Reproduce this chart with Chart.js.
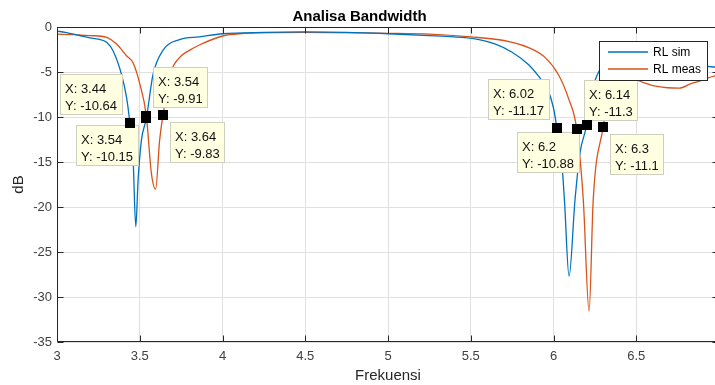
<!DOCTYPE html>
<html>
<head>
<meta charset="utf-8">
<script src="https://cdn.jsdelivr.net/npm/chart.js@4.4.0/dist/chart.umd.min.js"></script>
<style>
html, body { margin: 0; padding: 0; background: #fff; overflow: hidden; }
#wrap { width: 715px; height: 385px; overflow: hidden; }
</style>
</head>
<body>
<div id="wrap"><canvas id="myChart" width="722" height="385"></canvas></div>
<script>
// data
const simFreq = [3.00, 3.05, 3.10, 3.15, 3.20, 3.25, 3.30, 3.34, 3.39, 3.42, 3.44, 3.46, 3.476, 3.49, 3.51, 3.54, 3.58, 3.64, 3.74, 3.86,
  4.00, 4.25, 4.50, 4.75, 5.00, 5.25, 5.40, 5.55, 5.65, 5.75, 5.85, 5.92, 5.96, 6.00, 6.02, 6.05, 6.066, 6.094, 6.13, 6.16,
  6.20, 6.22, 6.26, 6.32, 6.40, 6.50, 6.60, 6.70, 6.80, 6.90, 7.00];
const simRL = [-0.45, -0.6, -0.8, -1.0, -1.2, -1.35, -1.7, -2.7, -5.3, -7.8, -10.64, -14.8, -22.2, -17.0, -12.6, -10.15, -5.3, -2.6, -1.4, -1.1,
  -0.75, -0.6, -0.55, -0.6, -0.75, -0.95, -1.1, -1.4, -1.9, -2.8, -4.2, -5.7, -6.7, -9.0, -11.17, -15.0, -19.2, -27.7, -19.2, -14.0,
  -10.88, -8.0, -5.5, -3.8, -3.0, -2.8, -3.0, -3.4, -3.8, -4.3, -4.5];

const measFreq = [3.00, 3.10, 3.20, 3.30, 3.36, 3.42, 3.46, 3.50, 3.54, 3.57, 3.596, 3.62, 3.64, 3.685, 3.74, 3.80, 3.86, 4.00, 4.10, 4.50,
  5.00, 5.25, 5.50, 5.70, 5.85, 5.95, 6.03, 6.09, 6.14, 6.18, 6.215, 6.24, 6.30, 6.33, 6.36, 6.40, 6.45, 6.49, 6.58, 6.69,
  6.76, 6.83, 6.90, 6.96, 7.00];
const measRL = [-0.8, -0.85, -0.95, -1.15, -1.9, -3.2, -4.0, -6.3, -9.91, -16.2, -18.0, -12.6, -9.83, -5.2, -3.4, -2.6, -2.0, -1.0, -0.75, -0.6,
  -0.7, -0.8, -1.1, -1.5, -2.3, -3.4, -5.3, -7.9, -11.3, -19.2, -31.6, -19.2, -11.1, -7.5, -5.2, -4.6, -5.0, -5.7, -6.4, -6.75,
  -6.8, -6.3, -5.9, -5.5, -5.3];

// 7 is the right edge of the axes (just outside the picture), it has no label
const xTicks = [3, 3.5, 4, 4.5, 5, 5.5, 6, 6.5];
const yTicks = [0, -5, -10, -15, -20, -25, -30, -35];

// data tips
const tipX = [3.44, 3.54, 3.54, 3.64, 6.02, 6.2, 6.14, 6.3];
const tipY = [-10.64, -10.15, -9.91, -9.83, -11.17, -10.88, -11.3, -11.1];
const tipSide = ['nw', 'sw', 'ne', 'se', 'nw', 'sw', 'ne', 'se'];

const blue = '#0072BD';
const orange = '#D95319';
const axisColor = '#262626';
const txtColor = '#404040';
const fontFam = '"Liberation Sans", Arial, Helvetica, sans-serif';

const toPts = (xs, ys) => xs.map((v, i) => ({x: v, y: ys[i]}));

const boxPlugin = {
  id: 'matlabBox',
  afterDatasetsDraw(chart) {
    const {ctx, chartArea: a, scales: {x, y}} = chart;
    ctx.save();
    ctx.strokeStyle = axisColor;
    ctx.lineWidth = 1;
    ctx.beginPath();
    const L = Math.round(a.left) + 0.5, R = Math.round(a.right) - 0.5;
    const T = Math.round(a.top) + 0.5, B = Math.round(a.bottom) - 0.5;
    ctx.rect(L, T, R - L, B - T);
    xTicks.forEach(v => {
      const px = Math.round(x.getPixelForValue(v)) + 0.5;
      ctx.moveTo(px, B); ctx.lineTo(px, B - 6);
      ctx.moveTo(px, T); ctx.lineTo(px, T + 6);
    });
    yTicks.forEach(v => {
      const py = Math.round(y.getPixelForValue(v)) + 0.5;
      ctx.moveTo(L, py); ctx.lineTo(L + 6, py);
      ctx.moveTo(R, py); ctx.lineTo(R - 6, py);
    });
    ctx.stroke();
    ctx.restore();
  },
  afterDraw(chart) {
    const {ctx, chartArea: a, scales: {x, y}} = chart;
    ctx.save();
    // data tip boxes
    ctx.font = '13px ' + fontFam;
    ctx.textBaseline = 'middle';
    const marks = [];
    tipX.forEach((v, i) => {
      const mx = x.getPixelForValue(v), my = y.getPixelForValue(tipY[i]);
      marks.push([mx, my]);
      const l1 = 'X: ' + v, l2 = 'Y: ' + tipY[i];
      const w = Math.ceil(Math.max(ctx.measureText(l1).width, ctx.measureText(l2).width)) + 10;
      const h = 41;
      const side = tipSide[i];
      let bx = side[1] === 'w' ? mx - 7 - w : mx + 7;
      let by = side[0] === 'n' ? my - 8 - h : my + 7;
      bx = Math.round(bx); by = Math.round(by);
      ctx.fillStyle = '#ffffe1';
      ctx.fillRect(bx, by, w, h);
      ctx.strokeStyle = '#cfcfbf';
      ctx.lineWidth = 1;
      ctx.strokeRect(bx + 0.5, by + 0.5, w - 1, h - 1);
      ctx.fillStyle = '#111';
      ctx.textAlign = 'left';
      ctx.fillText(l1, bx + 5, by + 15);
      ctx.fillText(l2, bx + 5, by + 32);
    });
    ctx.fillStyle = '#000';
    marks.forEach(([mx, my]) => ctx.fillRect(Math.round(mx - 5), Math.round(my - 5), 10, 10));

    // legend
    const lw = 108, lh = 39;
    const lx = Math.round(a.right) - 12 - lw, ly = Math.round(a.top) + 14;
    ctx.fillStyle = '#fff';
    ctx.fillRect(lx, ly, lw, lh);
    ctx.strokeStyle = axisColor;
    ctx.strokeRect(lx + 0.5, ly + 0.5, lw, lh);
    ctx.font = '12px ' + fontFam;
    chart.data.datasets.forEach((ds, i) => {
      const yy = ly + 11 + i * 17;
      ctx.strokeStyle = ds.borderColor;
      ctx.lineWidth = 1.3;
      ctx.beginPath();
      ctx.moveTo(lx + 9, yy); ctx.lineTo(lx + 49, yy);
      ctx.stroke();
      ctx.fillStyle = '#000';
      ctx.fillText(ds.label, lx + 54, yy + 1);
    });
    ctx.restore();
  }
};

function CreateChart() {
  const Config = {
    type: 'line',
    data: {
      datasets: [
        {label: 'RL sim', data: toPts(simFreq, simRL), borderColor: blue, borderWidth: 1.3,
         pointRadius: 0, cubicInterpolationMode: 'monotone', fill: false},
        {label: 'RL meas', data: toPts(measFreq, measRL), borderColor: orange, borderWidth: 1.3,
         pointRadius: 0, cubicInterpolationMode: 'monotone', fill: false}
      ]
    },
    plugins: [boxPlugin],
    options: {
      responsive: false,
      animation: false,
      layout: {padding: {left: 0, right: 3, top: 0, bottom: 0}},
      plugins: {
        legend: {display: false},
        tooltip: {enabled: false},
        title: {
          display: true,
          text: 'Analisa Bandwidth',
          color: '#000',
          font: {family: fontFam, size: 15, weight: 'bold', lineHeight: 1.2},
          padding: {top: 8, bottom: 1}
        }
      },
      scales: {
        x: {
          type: 'linear',
          min: 3, max: 7,
          afterBuildTicks: axis => { axis.ticks = xTicks.map(v => ({value: v})); },
          afterFit: axis => { axis.height = 43; },
          grid: {color: '#e0e0e0', drawTicks: false},
          border: {display: false},
          ticks: {color: txtColor, font: {family: fontFam, size: 13}, padding: 7, maxRotation: 0,
                  callback: v => String(v)},
          title: {display: true, text: 'Frekuensi', color: '#262626',
                  font: {family: fontFam, size: 15, lineHeight: 1.2}, padding: {top: 0, bottom: 0}}
        },
        y: {
          type: 'linear',
          min: -35, max: 0,
          afterBuildTicks: axis => { axis.ticks = yTicks.map(v => ({value: v})); },
          afterFit: axis => { axis.width = 57; },
          grid: {color: '#e0e0e0', drawTicks: false},
          border: {display: false},
          ticks: {color: txtColor, font: {family: fontFam, size: 13}, padding: 5,
                  callback: v => String(v)},
          title: {display: true, text: 'dB', color: '#262626',
                  font: {family: fontFam, size: 15, lineHeight: 1.2}, padding: {top: 10, bottom: 0}}
        }
      }
    }
  };
  myChart = new Chart(document.getElementById('myChart'), Config);
}
var myChart;
CreateChart();
</script>
</body>
</html>
